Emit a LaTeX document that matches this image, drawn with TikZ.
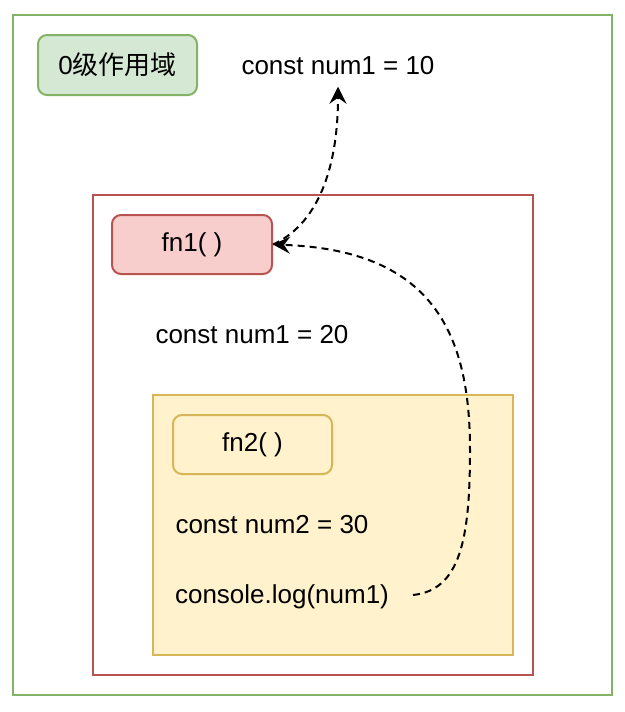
\documentclass[tikz,border=0pt]{standalone}
\usepackage{fontspec}
\setmainfont{Liberation Sans}
\newfontfamily\cjk{Noto Sans CJK SC}
\usetikzlibrary{arrows.meta}
\definecolor{greenline}{HTML}{82B366}
\definecolor{greenfill}{HTML}{D5E8D4}
\definecolor{redline}{HTML}{B85450}
\definecolor{redfill}{HTML}{F8CECC}
\definecolor{yellowline}{HTML}{D6B656}
\definecolor{yellowfill}{HTML}{FFF2CC}

\begin{document}
\begin{tikzpicture}[x=1pt,y=-1pt,
        every node/.style={font=\fontsize{26}{30}\selectfont},
        scopebox/.style={draw,line width=2pt,inner sep=0pt},
        tagbox/.style={draw,line width=2pt,rounded corners=9pt,inner sep=0pt},
        link/.style={draw,line width=2pt,dash pattern=on 7pt off 5pt,
            -{Stealth[length=17pt,width=17pt,inset=6pt]}}]
        \useasboundingbox (0,0) rectangle (624,712);
        \node (scope0) [scopebox,greenline,minimum width=599pt,minimum height=680pt] at (312.5,355) {};
        \node (lvl0) [tagbox,greenline,fill=greenfill,text=black,minimum width=159pt,minimum height=60pt] at (117.5,65) {0{\cjk 级作用域}};
        \node (num1a) at (338,66) {const num1 = 10};
        \node (scope1) [scopebox,redline,minimum width=440pt,minimum height=480pt] at (313,435) {};
        \node (fn1) [tagbox,redline,fill=redfill,text=black,minimum width=160pt,minimum height=59pt] at (192,244.5) {fn1( )};
        \node (num1b) at (252,335) {const num1 = 20};
        \node (scope2) [scopebox,yellowline,fill=yellowfill,minimum width=360pt,minimum height=260pt] at (333,525) {};
        \node (fn2) [tagbox,yellowline,fill=yellowfill,text=black,minimum width=159pt,minimum height=59pt] at (252.5,444.5) {fn2( )};
        \node (num2) at (272,525) {const num2 = 30};
        \node (log) at (282,597) {console.log(num1)};
        \coordinate (logout) at (413,595);
        \draw [link] (logout) .. controls (460,590) and (470,540) .. (470,450)
            .. controls (470,330) and (430,250) .. (fn1.east);
        \draw [link,shorten >=8pt] (fn1.east) .. controls (322,222) and (338,160) .. (num1a.south);
\end{tikzpicture}
\end{document}
